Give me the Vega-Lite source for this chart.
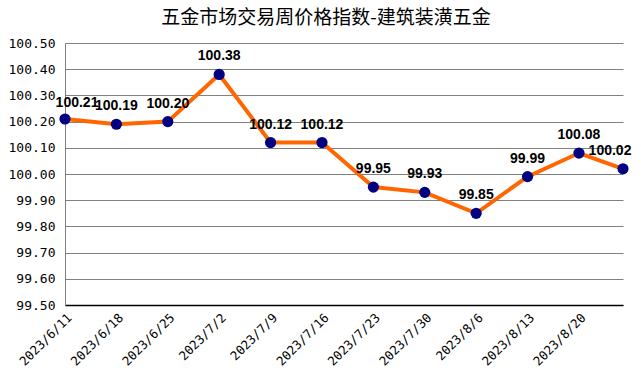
{
  "$schema": "https://vega.github.io/schema/vega-lite/v6.json",
  "width": 558,
  "height": 262,
  "autosize": {"type": "none"},
  "padding": {"left": 65, "top": 43, "right": 18, "bottom": 84},
  "background": "white",
  "title": {
    "text": "五金市场交易周价格指数-建筑装潢五金",
    "font": "Noto Sans CJK SC",
    "fontSize": 19,
    "fontWeight": "normal",
    "color": "#000000",
    "anchor": "middle",
    "dx": -18,
    "offset": 9
  },
  "config": {
    "view": {"stroke": null}
  },
  "data": {
    "values": [
      {"date": "2023-06-11", "value": 100.21},
      {"date": "2023-06-18", "value": 100.19},
      {"date": "2023-06-25", "value": 100.20},
      {"date": "2023-07-02", "value": 100.38},
      {"date": "2023-07-09", "value": 100.12},
      {"date": "2023-07-16", "value": 100.12},
      {"date": "2023-07-23", "value": 99.95},
      {"date": "2023-07-30", "value": 99.93},
      {"date": "2023-08-06", "value": 99.85},
      {"date": "2023-08-13", "value": 99.99},
      {"date": "2023-08-20", "value": 100.08},
      {"date": "2023-08-26", "value": 100.02}
    ]
  },
  "encoding": {
    "x": {
      "field": "date",
      "type": "temporal",
      "scale": {"type": "utc", "domain": ["2023-06-11", "2023-08-26"], "nice": false},
      "axis": {
        "title": null,
        "values": ["2023-06-11", "2023-06-18", "2023-06-25", "2023-07-02", "2023-07-09", "2023-07-16", "2023-07-23", "2023-07-30", "2023-08-06", "2023-08-13", "2023-08-20"],
        "labelExpr": "utcFormat(datum.value, '%Y/%-m/%-d')",
        "labelAngle": -45,
        "labelFont": "DejaVu Sans Mono",
        "labelFontSize": 12.5,
        "labelColor": "#000000",
        "labelPadding": 6,
        "ticks": false,
        "grid": false,
        "domainColor": "#000000",
        "domainWidth": 1.5,
        "labelOverlap": false
      }
    },
    "y": {
      "field": "value",
      "type": "quantitative",
      "scale": {"domain": [99.5, 100.5], "nice": false, "zero": false},
      "axis": {
        "title": null,
        "values": [99.5, 99.6, 99.7, 99.8, 99.9, 100.0, 100.1, 100.2, 100.3, 100.4, 100.5],
        "format": ".2f",
        "labelFont": "DejaVu Sans Mono",
        "labelFontSize": 13,
        "labelColor": "#000000",
        "labelPadding": 10,
        "ticks": false,
        "grid": true,
        "gridColor": "#808080",
        "gridWidth": 1,
        "gridOpacity": 1,
        "domainColor": "#808080",
        "domainWidth": 1
      }
    }
  },
  "layer": [
    {
      "mark": {"type": "line", "color": "#FF6600", "strokeWidth": 4}
    },
    {
      "mark": {"type": "circle", "color": "#000080", "size": 125, "opacity": 1}
    },
    {
      "transform": [{"filter": "utcFormat(datum.date, '%Y-%m-%d') != '2023-06-11' && utcFormat(datum.date, '%Y-%m-%d') != '2023-08-26'"}],
      "mark": {
        "type": "text",
        "dy": -18,
        "font": "Liberation Sans",
        "fontSize": 14,
        "fontWeight": "bold",
        "color": "#000000"
      },
      "encoding": {
        "text": {"field": "value", "type": "quantitative", "format": ".2f"}
      }
    },
    {
      "transform": [{"filter": "utcFormat(datum.date, '%Y-%m-%d') == '2023-06-11'"}],
      "mark": {
        "type": "text",
        "dy": -16,
        "dx": 12,
        "font": "Liberation Sans",
        "fontSize": 14,
        "fontWeight": "bold",
        "color": "#000000"
      },
      "encoding": {
        "text": {"field": "value", "type": "quantitative", "format": ".2f"}
      }
    },
    {
      "transform": [{"filter": "utcFormat(datum.date, '%Y-%m-%d') == '2023-08-26'"}],
      "mark": {
        "type": "text",
        "dy": -18,
        "dx": -13,
        "font": "Liberation Sans",
        "fontSize": 14,
        "fontWeight": "bold",
        "color": "#000000"
      },
      "encoding": {
        "text": {"field": "value", "type": "quantitative", "format": ".2f"}
      }
    }
  ]
}
